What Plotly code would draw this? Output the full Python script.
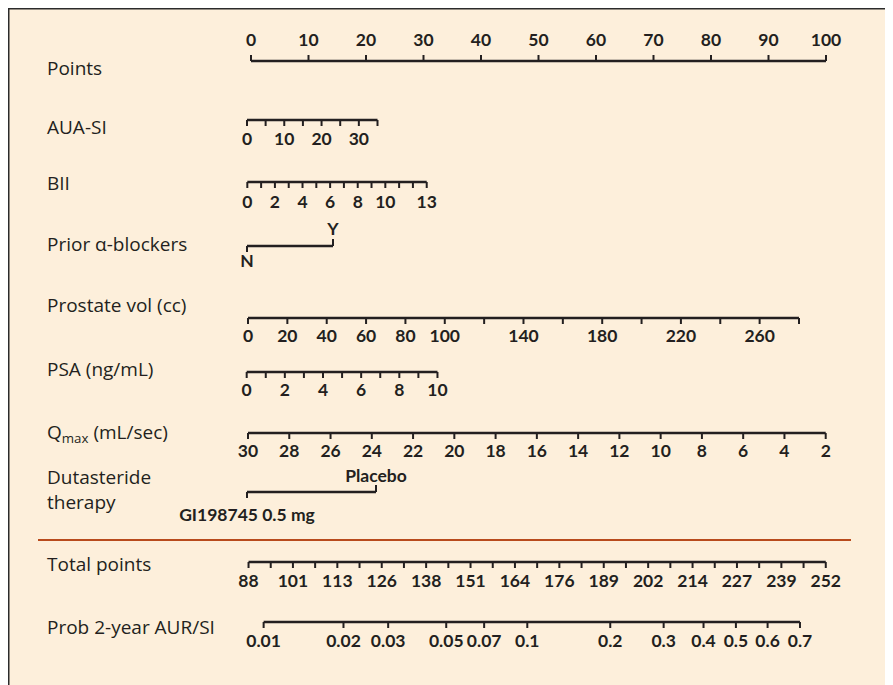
import plotly.graph_objects as go

# ---------------- data ----------------
points_ticks = [0, 10, 20, 30, 40, 50, 60, 70, 80, 90, 100]

aua_ticks = [0, 5, 10, 15, 20, 25, 30, 35]
aua_labels = [0, 10, 20, 30]
aua_points = (-0.7, 22.0)          # points at first / last tick value

bii_ticks = list(range(0, 14))
bii_labels = [0, 2, 4, 6, 8, 10, 13]
bii_points = (-0.64, 30.56)

prior_levels = ["N", "Y"]
prior_points = [-0.7, 14.26]

prostate_ticks = list(range(0, 281, 20))
prostate_labels = [0, 20, 40, 60, 80, 100, 140, 180, 220, 260]
prostate_points = (-0.52, 95.3)

psa_ticks = list(range(0, 11))
psa_labels = [0, 2, 4, 6, 8, 10]
psa_points = (-0.75, 32.43)

qmax_ticks = list(range(30, 1, -2))
qmax_labels = list(range(30, 1, -2))
qmax_points = (-0.52, 99.95)

dut_levels = ["GI198745 0.5 mg", "Placebo"]
dut_points = [-0.7, 21.74]

total_labels = [88, 101, 113, 126, 138, 151, 164, 176, 189, 202, 214, 227, 239, 252]
total_range = (88, 252)
total_points = (-0.43, 99.96)      # position of total 88 / 252 on the points scale
total_n_ticks = 27

prob_labels = ["0.01", "0.02", "0.03", "0.05", "0.07", "0.1", "0.2", "0.3", "0.4", "0.5", "0.6", "0.7"]
prob_total = [92.29, 114.98, 127.67, 144.17, 154.94, 167.20, 190.77, 205.94, 217.27, 226.47, 235.47, 244.67]

# ---------------- layout / style constants ----------------
W, H = 893, 685
OFF = 8                          # page body margin
PX0, PXS = 251.0, 5.75           # screen pixel of 0 points, pixels per point
XMIN = -(PX0 - OFF) / PXS
XMAX = XMIN + W / PXS
INK = "#231f20"
BG = "#fdefdb"
TICKLEN = 6
LABEL_FONT = dict(family="Open Sans, Lato, sans-serif", size=19, color=INK)
TICK_FONT = dict(family="Lato, Open Sans, sans-serif", size=17.5, color=INK, weight="bold")

fig = go.Figure()


def lin(v, v0, v1, p0, p1):
    return p0 + (v - v0) * (p1 - p0) / (v1 - v0)


def px(sx):
    return (sx - OFF) / W


def add_axis(xs, y, direction, label_x, label_text, label_y):
    fig.add_trace(go.Scatter(x=[min(xs), max(xs)], y=[y, y], mode="lines",
                             line=dict(color=INK, width=2.6), hoverinfo="skip"))
    tx, ty = [], []
    for x in xs:
        tx += [x, x, None]
        ty += [y, y + direction * TICKLEN, None]
    fig.add_trace(go.Scatter(x=tx, y=ty, mode="lines",
                             line=dict(color=INK, width=2), hoverinfo="skip"))
    fig.add_trace(go.Scatter(x=label_x, y=[label_y] * len(label_x), text=label_text,
                             mode="text", textposition="middle center",
                             textfont=TICK_FONT, hoverinfo="skip"))


# Points
add_axis(points_ticks, 61, -1, points_ticks, [str(v) for v in points_ticks], 42)

# AUA-SI
f = lambda v: lin(v, aua_ticks[0], aua_ticks[-1], *aua_points)
add_axis([f(v) for v in aua_ticks], 120, 1, [f(v) for v in aua_labels], [str(v) for v in aua_labels], 141)

# BII
f = lambda v: lin(v, bii_ticks[0], bii_ticks[-1], *bii_points)
add_axis([f(v) for v in bii_ticks], 182, 1, [f(v) for v in bii_labels], [str(v) for v in bii_labels], 204)

# Prior alpha-blockers (N below, Y above)
fig.add_trace(go.Scatter(x=prior_points, y=[246, 246], mode="lines",
                         line=dict(color=INK, width=2.6), hoverinfo="skip"))
fig.add_trace(go.Scatter(x=[prior_points[0], prior_points[0], None, prior_points[1], prior_points[1]],
                         y=[246, 252, None, 246, 239], mode="lines",
                         line=dict(color=INK, width=2), hoverinfo="skip"))
fig.add_trace(go.Scatter(x=prior_points, y=[263, 231], text=prior_levels, mode="text",
                         textfont=TICK_FONT, hoverinfo="skip"))

# Prostate volume
f = lambda v: lin(v, prostate_ticks[0], prostate_ticks[-1], *prostate_points)
add_axis([f(v) for v in prostate_ticks], 318, 1, [f(v) for v in prostate_labels],
         [str(v) for v in prostate_labels], 338)

# PSA
f = lambda v: lin(v, psa_ticks[0], psa_ticks[-1], *psa_points)
add_axis([f(v) for v in psa_ticks], 372, 1, [f(v) for v in psa_labels], [str(v) for v in psa_labels], 392)

# Qmax
f = lambda v: lin(v, qmax_ticks[0], qmax_ticks[-1], *qmax_points)
add_axis([f(v) for v in qmax_ticks], 433, 1, [f(v) for v in qmax_labels], [str(v) for v in qmax_labels], 453)

# Dutasteride therapy (GI below, Placebo above)
fig.add_trace(go.Scatter(x=dut_points, y=[492, 492], mode="lines",
                         line=dict(color=INK, width=2.6), hoverinfo="skip"))
fig.add_trace(go.Scatter(x=[dut_points[0], dut_points[0], None, dut_points[1], dut_points[1]],
                         y=[492, 498, None, 492, 485], mode="lines",
                         line=dict(color=INK, width=2), hoverinfo="skip"))
fig.add_trace(go.Scatter(x=dut_points, y=[517, 478], text=dut_levels, mode="text",
                         textfont=TICK_FONT, hoverinfo="skip"))

# Total points
tf = lambda v: lin(v, total_range[0], total_range[1], *total_points)
step = (total_range[1] - total_range[0]) / (total_n_ticks - 1)
total_tick_vals = [total_range[0] + i * step for i in range(total_n_ticks)]
total_label_vals = [total_range[0] + i * 2 * step for i in range(len(total_labels))]
add_axis([tf(v) for v in total_tick_vals], 562, 1, [tf(v) for v in total_label_vals],
         [str(v) for v in total_labels], 583)

# Probability
add_axis([tf(v) for v in prob_total], 622, 1, [tf(v) for v in prob_total], prob_labels, 643)

# Row labels
row_labels = [("Points", 68), ("AUA-SI", 127), ("BII", 183), ("Prior \u03b1-blockers", 244),
              ("Prostate vol (cc)", 305), ("PSA (ng/mL)", 369), ("Q<sub>max</sub> (mL/sec)", 433),
              ("Dutasteride<br>therapy", 489), ("Total points", 564),
              ("Prob 2-year AUR/SI", 627)]
for txt, yy in row_labels:
    fig.add_annotation(x=px(45), xref="paper", y=yy, yref="y", text=txt, showarrow=False,
                       xanchor="left", yanchor="middle", align="left", font=LABEL_FONT)

# Frame and separator
fig.add_shape(type="line", xref="paper", yref="paper", x0=px(8.5), x1=px(8.5), y0=0, y1=1,
              line=dict(color="#2b2b2b", width=2))
fig.add_shape(type="line", xref="paper", yref="y", x0=px(8.5), x1=1, y0=8.5, y1=8.5,
              line=dict(color="#2b2b2b", width=2))
fig.add_shape(type="line", xref="paper", yref="y", x0=px(38), x1=px(851), y0=540, y1=540,
              line=dict(color="#b84a1c", width=2))

fig.update_layout(
    width=W, height=H, autosize=False,
    margin=dict(l=0, r=0, t=0, b=0),
    paper_bgcolor=BG, plot_bgcolor="rgba(0,0,0,0)",
    showlegend=False,
    xaxis=dict(range=[XMIN, XMAX], visible=False, fixedrange=True),
    yaxis=dict(range=[H + OFF, OFF], visible=False, fixedrange=True),
)

fig.write_html("out.html")
